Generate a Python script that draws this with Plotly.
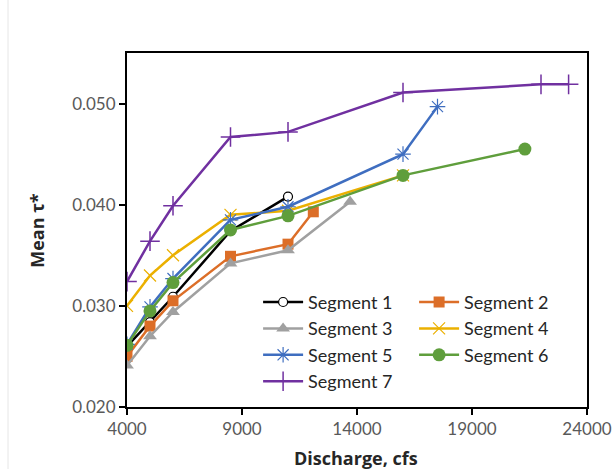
import plotly.graph_objects as go

names = ["Segment 1", "Segment 2", "Segment 3", "Segment 4", "Segment 5", "Segment 6", "Segment 7"]

x1 = [4000, 5000, 6000, 8500, 11000]
y1 = [0.0260, 0.0284, 0.0309, 0.0374, 0.0408]

x2 = [4000, 5000, 6000, 8500, 11000, 12100]
y2 = [0.0250, 0.0280, 0.0305, 0.0349, 0.0361, 0.0393]

x3 = [4000, 5000, 6000, 8500, 11000, 13700]
y3 = [0.0241, 0.0270, 0.0294, 0.0342, 0.0355, 0.0403]

x4 = [4000, 5000, 6000, 8500, 11000, 16000]
y4 = [0.0300, 0.0330, 0.0350, 0.0390, 0.0394, 0.0429]

x5 = [4000, 5000, 6000, 8500, 11000, 16000, 17500]
y5 = [0.0262, 0.0299, 0.0327, 0.0385, 0.0398, 0.0450, 0.0497]

x6 = [4000, 5000, 6000, 8500, 11000, 16000, 21300]
y6 = [0.0261, 0.0295, 0.0323, 0.0375, 0.0389, 0.0429, 0.0455]

x7 = [4000, 5000, 6000, 8500, 11000, 16000, 22000, 23200]
y7 = [0.0324, 0.0364, 0.0399, 0.0467, 0.0472, 0.0511, 0.0519, 0.0519]

xs = [x1, x2, x3, x4, x5, x6, x7]
ys = [y1, y2, y3, y4, y5, y6, y7]

x_ticks = [4000, 9000, 14000, 19000, 24000]
y_ticks = [0.020, 0.030, 0.040, 0.050]

colors = ["#000000", "#DC6E28", "#A0A0A0", "#EBB000", "#3F6EC0", "#5F9E3C", "#7030A0"]
markers = [
    dict(symbol="circle", size=9, color="white", line=dict(color="#000000", width=1.2)),
    dict(symbol="square", size=11, color="#DC6E28", line=dict(width=0)),
    dict(symbol="triangle-up", size=12, color="#A0A0A0", line=dict(width=0)),
    dict(symbol="x-thin-open", size=12, color="#EBB000", line=dict(color="#EBB000", width=1.2)),
    dict(symbol="asterisk-open", size=13, color="#3F6EC0", line=dict(color="#5F86D0", width=1.2)),
    dict(symbol="circle", size=13, color="#5F9E3C", line=dict(width=0)),
    dict(symbol="cross-thin-open", size=14, color="#7030A0", line=dict(color="#7030A0", width=1.5)),
]

fig = go.Figure()
for i in range(7):
    fig.add_trace(go.Scatter(
        x=xs[i], y=ys[i], name=names[i], mode="lines+markers",
        line=dict(color=colors[i], width=2.5),
        marker=markers[i],
    ))

fig.add_shape(type="line", xref="paper", yref="paper",
              x0=-119 / 460, x1=-119 / 460, y0=-62 / 354, y1=1 + 53 / 354,
              line=dict(color="#E6E6E6", width=1))

title_font = dict(size=18, color="#262626", family="Open Sans, sans-serif", weight="bold")
fig.add_annotation(text="Discharge, cfs", xref="paper", yref="paper",
                   x=0.498, y=-0.144, xanchor="center", yanchor="middle",
                   showarrow=False, font=title_font)
fig.add_annotation(text="Mean τ*", xref="paper", yref="paper", textangle=-90,
                   x=-0.196, y=0.5, xanchor="center", yanchor="middle",
                   showarrow=False, font=title_font)

fig.update_layout(
    width=612, height=469,
    margin=dict(l=127, r=25, t=53, b=62, autoexpand=False),
    paper_bgcolor="white", plot_bgcolor="white",
    font=dict(family="Lato, Open Sans, sans-serif", color="#595959", size=14),
    showlegend=True,
    legend=dict(
        orientation="h", x=0.285, y=0.348, xanchor="left", yanchor="top",
        entrywidth=101, entrywidthmode="pixels",
        font=dict(size=18, color="#262626", family="Lato, Open Sans, sans-serif"),
        bgcolor="rgba(255,255,255,0)", itemwidth=40, tracegroupgap=0,
        traceorder="normal",
    ),
    xaxis=dict(
        range=[4000, 24000], tickvals=x_ticks, tickformat="d", automargin=False,
        showgrid=False, zeroline=False, showline=True, linecolor="black", linewidth=2,
        mirror=True, ticks="outside", ticklen=6, tickcolor="black", tickwidth=2,
        tickfont=dict(size=17, color="#595959"),
    ),
    yaxis=dict(
        range=[0.020, 0.055], tickvals=y_ticks, tickformat=".3f", automargin=False,
        showgrid=False, zeroline=False, showline=True, linecolor="black", linewidth=2,
        mirror=True, ticks="outside", ticklen=6, tickcolor="black", tickwidth=2,
        tickfont=dict(size=17, color="#595959"),
    ),
)

fig.write_html("out.html")
